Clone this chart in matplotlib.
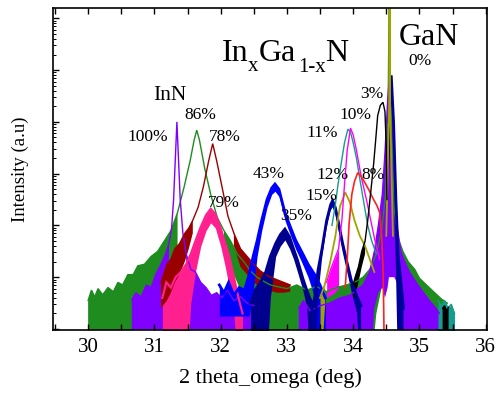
import numpy as np
import matplotlib
matplotlib.use("Agg")
import matplotlib.pyplot as plt
from matplotlib.ticker import LogLocator, MultipleLocator, NullFormatter

nan = float("nan")
B = -1.0  # noise reaching the floor of the log axis

# Each scan: 2theta (deg), upper edge and lower edge of the trace in log10(counts).
# nan in the lower edge = clean single line, B = dense noise down to the floor.
x_86 = [30.00, 30.05, 30.10, 30.15, 30.22, 30.30, 30.38, 30.45, 30.52, 30.60,
        30.68, 30.75, 30.85, 30.95, 31.05, 31.15, 31.25, 31.35, 31.45, 31.54,
        31.60, 31.64, 31.68, 31.76, 31.85, 31.95, 32.05, 32.15, 32.25, 32.35,
        32.45, 32.55, 32.65, 32.75, 32.85, 33.00, 33.15, 33.30, 33.45, 33.60,
        33.75, 33.90, 34.05, 34.15, 34.25, 34.35, 34.43, 34.49, 34.53, 34.55,
        34.56, 34.58, 34.62, 34.68, 34.75, 34.83, 34.93, 35.00, 35.13, 35.23,
        35.33, 35.42]
top_86 = [0.55, 0.75, 0.62, 0.78, 0.66, 0.80, 0.72, 0.90, 0.85, 1.05,
          1.05, 1.22, 1.25, 1.40, 1.50, 1.70, 1.90, 2.25, 2.75, 3.25,
          3.65, 3.84, 3.65, 3.10, 2.60, 2.15, 1.90, 1.70, 1.45, 1.30,
          1.12, 1.00, 0.92, 0.85, 0.82, 0.78, 0.85, 0.75, 0.82, 0.72,
          0.80, 0.85, 0.92, 1.00, 1.15, 1.45, 1.90, 2.60, 4.50, 7.50,
          5.00, 4.00, 2.30, 1.75, 1.50, 1.30, 1.15, 0.98, 0.82, 0.70,
          0.58, 0.50]
bot_86 = [B] * 18 + [nan] * 8 + [1.6, 1.2, 0.9, 0.6, 0.4] + [B] * 14 + \
         [0.3, 0.8, 1.4, nan, nan, nan, nan, 1.5, 0.9] + [B] * 8

x_100 = [30.66, 30.72, 30.80, 30.88, 30.95, 31.02, 31.10, 31.17, 31.22, 31.26,
         31.29, 31.32, 31.34, 31.36, 31.39, 31.43, 31.48, 31.55, 31.62, 31.70,
         31.78, 31.86, 31.94, 32.02, 32.10, 32.20, 32.30, 32.40, 32.50, 32.56,
         33.18, 33.25, 33.35, 33.50, 33.65, 33.80, 33.95, 34.05, 34.15, 34.25,
         34.32, 34.38, 34.44, 34.48, 34.52, 34.54, 34.57, 34.59, 34.62, 34.66,
         34.72, 34.76, 34.85, 34.95, 35.05, 35.15, 35.25, 35.30]
top_100 = [0.56, 0.70, 0.62, 0.85, 0.80, 1.05, 1.25, 1.45, 1.65, 1.95,
           2.50, 3.40, 4.00, 3.40, 2.50, 1.85, 1.45, 1.15, 1.10, 0.90,
           0.80, 0.65, 0.70, 0.60, 0.75, 0.55, 0.62, 0.50, 0.45, nan,
           0.40, 0.55, 0.35, 0.45, 0.50, 0.60, 0.65, 0.75, 0.85, 1.10,
           1.50, 2.00, 2.60, 3.40, 4.40, 4.75, 4.75, 4.20, 3.00, 2.00,
           1.50, 1.35, 1.10, 0.90, 0.72, 0.55, 0.40, 0.30]
bot_100 = [B] * 9 + [nan] * 7 + [B] * 13 + [nan] + [B] * 10 + \
          [0.4, 0.7, 0.8, 0.6, 0.8, 1.0, 1.0, 1.0, 1.0, 0.9, 0.5] + [B] * 7

x_79 = [31.12, 31.18, 31.25, 31.32, 31.40, 31.48, 31.55, 31.62, 31.70, 31.78,
        31.85, 31.92, 32.00, 32.07, 32.13, 32.20, 32.27, 32.33]
top_79 = [0.60, 0.90, 0.80, 1.00, 1.10, 1.25, 1.45, 1.70, 1.97, 2.20,
          2.32, 2.22, 1.95, 1.65, 1.40, 1.00, 0.60, 0.30]
bot_79 = [B, B, B, B, B, B, 0.5, 1.1, 1.6, 1.9,
          2.05, 1.95, 1.6, 1.2, 0.8, 0.3, B, B]

x_78 = [31.10, 31.19, 31.25, 31.31, 31.38, 31.46, 31.52, 31.58, 31.66, 31.74,
        31.82, 31.88, 31.94, 32.02, 32.11, 32.20, 32.30, 32.40, 32.50, 32.60,
        32.72, 32.85, 32.95, 33.05]
top_78 = [0.90, 1.25, 1.35, 1.55, 1.65, 1.85, 1.95, 2.10, 2.35, 2.75,
          3.25, 3.58, 3.25, 2.75, 2.18, 1.85, 1.55, 1.40, 1.25, 1.12,
          1.02, 0.95, 0.90, 0.85]
bot_78 = [0.40, 0.55, 0.70, 0.90, 1.05, 1.30, 1.55, 1.85] + [nan] * 7 + \
         [1.60, 1.20, 1.05, 0.90, 0.80, 0.75, 0.70, 0.70, 0.72]

x_43 = [31.98, 32.05, 32.12, 32.20, 32.28, 32.36, 32.43, 32.49, 32.55, 32.62,
        32.70, 32.77, 32.82, 32.88, 32.97, 33.05, 33.13, 33.22, 33.32, 33.42,
        33.50, 33.58]
top_43 = [0.85, 0.70, 0.90, 0.65, 0.80, 0.75, 1.05, 1.40, 1.70, 2.10,
          2.50, 2.72, 2.80, 2.70, 2.25, 1.98, 1.72, 1.50, 1.25, 1.05,
          0.85, 0.60]
bot_43 = [0.25, 0.25, 0.25, 0.25, 0.25, 0.25, 0.25, 0.70, 1.40, 1.90,
          2.35, 2.60, 2.66, 2.56, 2.10, 1.82, 1.55, 1.30, 1.00, 0.60,
          B, B]

x_35 = [32.45, 32.52, 32.60, 32.68, 32.75, 32.83, 32.90, 32.97, 33.04, 33.10,
        33.16, 33.24, 33.30, 33.36, 33.45]
top_35 = [0.50, 0.75, 0.90, 1.10, 1.40, 1.65, 1.82, 1.93, 1.78, 1.55,
          1.33, 0.98, 0.75, 0.55, 0.40]
bot_35 = [B, B, B, B, 0.60, 1.40, 1.60, 1.72, 1.55, 1.35,
          1.10, 0.75, 0.40, B, B]

x_15 = [33.38, 33.42, 33.47, 33.53, 33.60, 33.66, 33.69, 33.73, 33.78, 33.84,
        33.91, 33.98, 34.06, 34.12, 34.14, 34.54, 34.575, 34.61, 34.645, 34.68,
        34.73, 34.76]
top_15 = [0.35, 0.62, 1.14, 1.55, 2.10, 2.40, 2.48, 2.35, 2.05, 1.66,
          1.27, 0.90, 0.62, 0.45, nan, 4.00, 4.90, 4.00, 2.50, 1.40,
          0.80, 0.40]
bot_15 = [B, B, 0.60, 1.35, 1.95, 2.28, 2.35, 2.22, 1.90, 1.50,
          1.10, 0.70, 0.30, B, nan, 3.00, 4.00, 2.80, 1.20, B,
          B, B]

x_12 = [33.50, 33.57, 33.65, 33.73, 33.80, 33.88, 33.95, 34.02, 34.10, 34.18,
        34.25, 34.32, 34.36, 34.50, 34.545, 34.55, 34.555, 34.60]
top_12 = [0.60, 0.85, 1.27, 1.78, 2.36, 2.64, 2.45, 2.10, 1.80, 1.60,
          1.35, 1.10, nan, 1.80, 4.50, 7.50, 4.50, 1.80]
bot_12 = [B, 0.50] + [nan] * 16

x_11 = [33.68, 33.73, 33.77, 33.82, 33.87, 33.92, 33.96, 34.00, 34.05, 34.10,
        34.16, 34.22, 34.28, 34.35, 34.40, 35.28, 35.33, 35.38, 35.43, 35.48,
        35.53]
top_11 = [2.00, 2.39, 2.78, 3.20, 3.60, 3.86, 3.80, 3.60, 3.30, 2.90,
          2.45, 2.00, 1.70, 1.45, nan, 0.55, 0.45, 0.55, 0.40, 0.48,
          0.30]
bot_11 = [nan] * 15 + [B] * 6

x_10 = [33.60, 33.66, 33.72, 33.78, 33.83, 33.87, 33.91, 33.96, 34.00, 34.05,
        34.12, 34.20, 34.27, 34.33, 34.40]
top_10 = [0.90, 1.15, 1.35, 1.55, 2.10, 2.80, 3.45, 3.88, 3.75, 3.45,
          2.95, 2.50, 2.07, 1.70, 1.35]
bot_10 = [0.60, 0.65, 0.70, 0.80] + [nan] * 11

x_8 = [33.88, 33.91, 33.94, 33.98, 34.02, 34.07, 34.12, 34.18, 34.24, 34.30,
       34.36, 34.40, 34.43, 34.45, 34.46, 34.47]
top_8 = [0.80, 1.35, 2.05, 2.60, 2.85, 3.02, 2.95, 2.82, 2.68, 2.52,
         2.38, 2.25, 1.80, 1.20, 0.50, -0.50]
bot_8 = [nan] * 16

x_3 = [34.00, 34.03, 34.08, 34.13, 34.18, 34.22, 34.27, 34.31, 34.34, 34.37,
       34.41, 34.45, 34.48, 34.50, 34.51, 34.52, 35.35, 35.38, 35.41, 35.44]
top_3 = [0.85, 1.00, 1.20, 1.50, 1.70, 2.10, 2.70, 3.20, 3.65, 4.12,
         4.32, 4.38, 4.20, 3.50, 2.50, nan, 0.40, 0.45, 0.35, 0.42]
bot_3 = [0.60, 0.60, 0.90, 1.20, 1.45] + [nan] * 11 + [B] * 4

# label text, (x, y) in figure pixels
pct_labels = [("100%", 148, 137), ("86%", 200, 115), ("78%", 225, 137),
              ("79%", 224, 203), ("43%", 269, 174), ("35%", 296, 216),
              ("15%", 321, 196), ("12%", 333, 175), ("8%", 373, 175),
              ("11%", 322, 133), ("10%", 355, 115), ("3%", 372, 94),
              ("0%", 420, 61)]

scans = [
    (x_86, top_86, bot_86, "#1f8c1f", 1.0),
    (x_100, top_100, bot_100, "#8000ff", 1.0),
    (x_79, top_79, bot_79, "#ff1f8f", 1.6),
    (x_78, top_78, bot_78, "#990000", 1.0),
    (x_43, top_43, bot_43, "#0000ff", 2.0),
    (x_35, top_35, bot_35, "#00008f", 2.0),
    (x_15, top_15, bot_15, "#00009c", 2.0),
    (x_12, top_12, bot_12, "#a3a300", 1.3),
    (x_11, top_11, bot_11, "#159c8c", 1.0),
    (x_10, top_10, bot_10, "#ff00ff", 1.0),
    (x_8, top_8, bot_8, "#ff2020", 1.2),
    (x_3, top_3, bot_3, "#000000", 1.0),
]

W, H = 500, 394
fig = plt.figure(figsize=(W / 100, H / 100), dpi=100)
ax = fig.add_axes([53 / W, 1 - 330 / H, (487 - 53) / W, (330 - 8) / H])

for x, top, bot, color, lw in scans:
    x = np.asarray(x, float)
    t = 10 ** np.asarray(top, float)
    b = 10 ** np.asarray(bot, float)
    ax.fill_between(x, b, t, color=color, lw=0)
    ax.plot(x, t, color=color, lw=lw, solid_joinstyle="miter")

ax.set_yscale("log")
ax.set_xlim(29.47, 36.02)
ax.set_ylim(10 ** -0.02, 10 ** 6.2)

serif = "Liberation Serif"
ax.xaxis.set_major_locator(MultipleLocator(1))
ax.xaxis.set_minor_locator(MultipleLocator(0.5))
ax.yaxis.set_major_locator(LogLocator(base=10, numticks=20))
ax.yaxis.set_minor_locator(LogLocator(base=10, subs=np.arange(2, 10), numticks=50))
ax.yaxis.set_major_formatter(NullFormatter())
ax.yaxis.set_minor_formatter(NullFormatter())
ax.tick_params(axis="x", which="both", direction="in", top=True, bottom=True,
               length=4, width=1.0)
ax.tick_params(axis="y", which="major", direction="in", left=True, right=False,
               length=4.5, width=1.0)
ax.tick_params(axis="y", which="minor", direction="in", left=True, right=False,
               length=2.2, width=0.7)
ax.tick_params(axis="x", labelsize=15, pad=6)
for lab in ax.get_xticklabels():
    lab.set_fontfamily(serif)
for s in ax.spines.values():
    s.set_linewidth(1.2)

ax.set_xlabel("2 theta_omega (deg)", fontsize=16, family=serif, labelpad=8)
ax.set_ylabel("Intensity (a.u)", fontsize=13.5, family=serif, labelpad=14)


def ftext(s, px, py, size, **kw):
    fig.text(px / W, 1 - py / H, s, fontsize=size, family=serif, **kw)


for s, px, py in pct_labels:
    ftext(s, px, py, 12.5, ha="center", va="center")
ftext("InN", 170, 95, 15.5, ha="center", va="center")
ftext("GaN", 429, 45, 23, ha="center", va="baseline")

# In_x Ga_(1-x) N
ftext("In", 222, 61, 23, ha="left", va="baseline")
ftext("x", 248, 71, 15, ha="left", va="baseline")
ftext("Ga", 259, 61, 23, ha="left", va="baseline")
ftext("1-x", 298, 72, 15, ha="left", va="baseline")
ftext("N", 325, 61, 23, ha="left", va="baseline")

fig.savefig("out.png", dpi=100)
